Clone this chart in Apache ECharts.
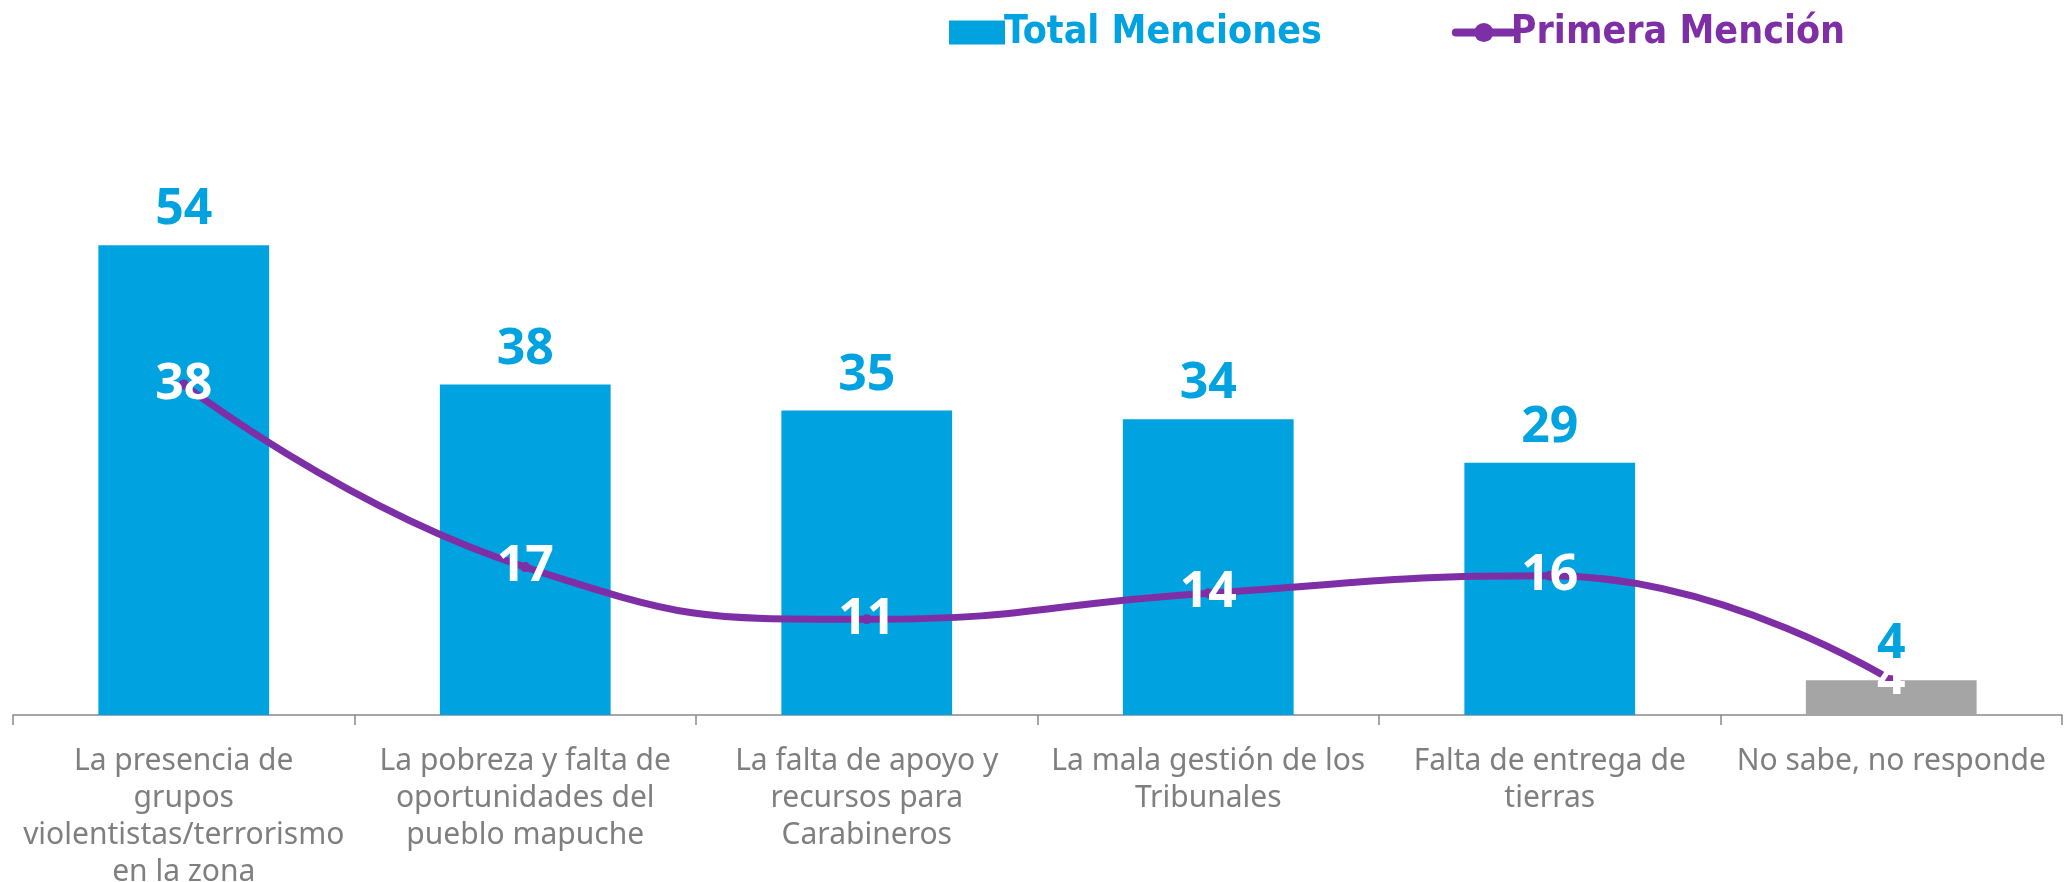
<!DOCTYPE html>
<html>
<head>
<meta charset="utf-8">
<script src="https://cdn.jsdelivr.net/npm/echarts@6/dist/echarts.min.js"></script>
<style>
  html, body { margin: 0; padding: 0; background: #fff; }
  #chart { width: 2065px; height: 882px; }
</style>
</head>
<body>
<div id="chart"></div>
<script>
var categories = [
  'La presencia de\ngrupos\nviolentistas/terrorismo\nen la zona',
  'La pobreza y falta de\noportunidades del\npueblo mapuche',
  'La falta de apoyo y\nrecursos para\nCarabineros',
  'La mala gestión de los\nTribunales',
  'Falta de entrega de\ntierras',
  'No sabe, no responde'
];
var totalMenciones = [54, 38, 35, 34, 29, 4];
var primeraMencion = [38, 17, 11, 14, 16, 4];

var blue = '#00A3E0';
var purple = '#7F2FA6';
var grey = '#A5A5A5';

var chartDom = document.getElementById('chart');
var myChart = echarts.init(chartDom);
var option;

option = {
  animation: false,
  legend: {
    top: 8,
    left: 944,
    itemWidth: 56,
    itemHeight: 24,
    itemGap: 130,
    textStyle: {
      fontFamily: 'DejaVu Sans Condensed',
      fontWeight: 'bold',
      fontSize: 39,
      padding: [0, 0, 0, -6]
    },
    data: [
      { name: 'Total Menciones', icon: 'rect', textStyle: { color: blue } },
      {
        name: 'Primera Mención',
        textStyle: { color: purple },
        lineStyle: { width: 8, cap: 'round' },
        itemStyle: { color: purple }
      }
    ]
  },
  grid: {
    left: 13,
    right: 3,
    top: 193,
    bottom: 167,
    containLabel: false,
    outerBoundsMode: 'none'
  },
  xAxis: {
    type: 'category',
    data: categories,
    axisLine: { lineStyle: { color: '#898989', width: 1.5 } },
    axisTick: { show: true, length: 10, lineStyle: { color: '#898989', width: 1.5 } },
    axisLabel: {
      interval: 0,
      color: '#7F7F7F',
      fontFamily: 'Noto Sans',
      fontSize: 30,
      lineHeight: 37,
      margin: 28
    }
  },
  yAxis: {
    type: 'value',
    min: 0,
    max: 60,
    show: false,
    splitLine: { show: false }
  },
  series: [
    {
      name: 'Total Menciones',
      type: 'bar',
      barWidth: '50%',
      itemStyle: { color: blue },
      data: totalMenciones.map(function (v, i) {
        return i === totalMenciones.length - 1 ? { value: v, itemStyle: { color: grey } } : v;
      }),
      label: {
        show: true,
        position: 'top',
        distance: 10,
        color: blue,
        fontFamily: 'Noto Sans',
        fontWeight: 'bold',
        fontSize: 50
      }
    },
    {
      name: 'Primera Mención',
      type: 'line',
      smooth: 0.5,
      symbol: 'circle',
      symbolSize: 10,
      itemStyle: { color: purple },
      lineStyle: { color: purple, width: 7 },
      data: primeraMencion,
      z: 5,
      label: {
        show: true,
        position: 'inside',
        color: '#FFFFFF',
        fontFamily: 'Noto Sans',
        fontWeight: 'bold',
        fontSize: 50
      }
    }
  ]
};

option && myChart.setOption(option);
</script>
</body>
</html>
